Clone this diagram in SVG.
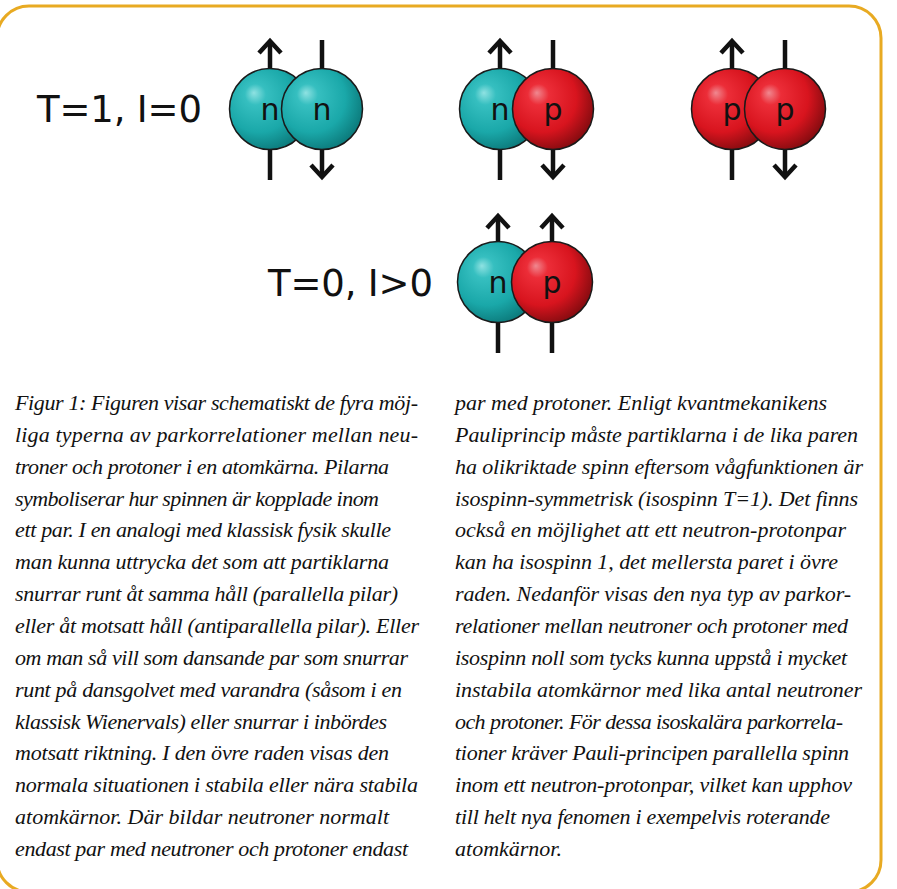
<svg xmlns="http://www.w3.org/2000/svg" xmlns:xlink="http://www.w3.org/1999/xlink" width="897" height="889" viewBox="0 0 897 889">
  <style>
    .frame { fill: none; stroke: #E8AA22; stroke-width: 3; }
    .label { font-family: "DejaVu Sans", "Liberation Sans", sans-serif; font-size: 37px; fill: #111; }
    .ball { stroke: #1a1a1a; stroke-width: 1.5; }
    .neutron { fill: url(#gradN); }
    .proton { fill: url(#gradP); }
    .letter { font-family: "DejaVu Sans", "Liberation Sans", sans-serif; font-size: 30px; fill: #111; text-anchor: middle; }
    .spin { stroke: #111; stroke-width: 4.5; fill: none; }
    .head { stroke: #111; stroke-width: 4.5; fill: none; stroke-linejoin: miter; }
    .body { font-family: "Liberation Serif", "Times New Roman", serif; font-style: italic; font-size: 22px; fill: #111; }
  </style>
  <defs>
    <radialGradient id="gradN" cx="0.4" cy="0.4" r="0.65" fx="0.3" fy="0.3">
      <stop offset="0" stop-color="#8fe2e2"/>
      <stop offset="0.2" stop-color="#36bfc0"/>
      <stop offset="0.65" stop-color="#1aa8a9"/>
      <stop offset="1" stop-color="#0b7778"/>
    </radialGradient>
    <radialGradient id="gradP" cx="0.4" cy="0.4" r="0.65" fx="0.3" fy="0.3">
      <stop offset="0" stop-color="#f08890"/>
      <stop offset="0.2" stop-color="#ec2d38"/>
      <stop offset="0.65" stop-color="#d8141e"/>
      <stop offset="1" stop-color="#800b0f"/>
    </radialGradient>
    <!-- open chevron heads, tip at origin -->
    <path id="headUp" class="head" d="M-11,12 L0,0 L11,12"/>
    <path id="headDown" class="head" d="M-11,-12 L0,0 L11,-12"/>
  </defs>

  <rect class="frame" x="-3" y="6" width="884" height="886" rx="32" ry="32"/>

  <!-- row labels -->
  <text id="label-t1" class="label" x="37" y="122" textLength="165">T=1, I=0</text>
  <text id="label-t0" class="label" x="268" y="296" textLength="165">T=0, I&gt;0</text>

  <!-- neutron-neutron pair, antiparallel spins -->
  <g id="pair-nn">
    <line class="spin" x1="270" y1="42" x2="270" y2="180"/>
    <use xlink:href="#headUp" x="270" y="41"/>
    <line class="spin" x1="322" y1="40" x2="322" y2="176"/>
    <use xlink:href="#headDown" x="322" y="177"/>
    <circle class="ball neutron" cx="270" cy="109" r="40.5"/>
    <circle class="ball neutron" cx="322" cy="109" r="40.5"/>
    <text class="letter" x="270" y="120">n</text>
    <text class="letter" x="322" y="120">n</text>
  </g>

  <!-- neutron-proton pair, antiparallel spins -->
  <g id="pair-np">
    <line class="spin" x1="500" y1="42" x2="500" y2="180"/>
    <use xlink:href="#headUp" x="500" y="41"/>
    <line class="spin" x1="553" y1="40" x2="553" y2="176"/>
    <use xlink:href="#headDown" x="553" y="177"/>
    <circle class="ball neutron" cx="500" cy="109" r="40.5"/>
    <circle class="ball proton" cx="553" cy="109" r="40.5"/>
    <text class="letter" x="500" y="120">n</text>
    <text class="letter" x="553" y="120">p</text>
  </g>

  <!-- proton-proton pair, antiparallel spins -->
  <g id="pair-pp">
    <line class="spin" x1="732" y1="42" x2="732" y2="180"/>
    <use xlink:href="#headUp" x="732" y="41"/>
    <line class="spin" x1="785" y1="40" x2="785" y2="176"/>
    <use xlink:href="#headDown" x="785" y="177"/>
    <circle class="ball proton" cx="732" cy="109" r="40.5"/>
    <circle class="ball proton" cx="785" cy="109" r="40.5"/>
    <text class="letter" x="732" y="120">p</text>
    <text class="letter" x="785" y="120">p</text>
  </g>

  <!-- isoscalar neutron-proton pair, parallel spins -->
  <g id="pair-np-isoscalar">
    <line class="spin" x1="498" y1="217" x2="498" y2="353"/>
    <use xlink:href="#headUp" x="498" y="216"/>
    <line class="spin" x1="552" y1="217" x2="552" y2="353"/>
    <use xlink:href="#headUp" x="552" y="216"/>
    <circle class="ball neutron" cx="498" cy="282" r="40.5"/>
    <circle class="ball proton" cx="552" cy="282" r="40.5"/>
    <text class="letter" x="498" y="293">n</text>
    <text class="letter" x="552" y="293">p</text>
  </g>

  <!-- caption, left column -->
  <g id="caption-left" class="body">
    <text x="15" y="410" textLength="403" lengthAdjust="spacing">Figur 1: Figuren visar schematiskt de fyra möj-</text>
    <text x="15" y="442" textLength="403" lengthAdjust="spacing">liga typerna av parkorrelationer mellan neu-</text>
    <text x="15" y="474" textLength="374" lengthAdjust="spacing">troner och protoner i en atomkärna. Pilarna</text>
    <text x="15" y="506" textLength="364" lengthAdjust="spacing">symboliserar hur spinnen är kopplade inom</text>
    <text x="15" y="537" textLength="376" lengthAdjust="spacing">ett par. I en analogi med klassisk fysik skulle</text>
    <text x="15" y="569" textLength="374" lengthAdjust="spacing">man kunna uttrycka det som att partiklarna</text>
    <text x="15" y="601" textLength="383" lengthAdjust="spacing">snurrar runt åt samma håll (parallella pilar)</text>
    <text x="15" y="633" textLength="404" lengthAdjust="spacing">eller åt motsatt håll (antiparallella pilar). Eller</text>
    <text x="15" y="665" textLength="393" lengthAdjust="spacing">om man så vill som dansande par som snurrar</text>
    <text x="15" y="697" textLength="387" lengthAdjust="spacing">runt på dansgolvet med varandra (såsom i en</text>
    <text x="15" y="729" textLength="372" lengthAdjust="spacing">klassisk Wienervals) eller snurrar i inbördes</text>
    <text x="15" y="760" textLength="374" lengthAdjust="spacing">motsatt riktning. I den övre raden visas den</text>
    <text x="15" y="792" textLength="403" lengthAdjust="spacing">normala situationen i stabila eller nära stabila</text>
    <text x="15" y="824" textLength="374" lengthAdjust="spacing">atomkärnor. Där bildar neutroner normalt</text>
    <text x="15" y="856" textLength="393" lengthAdjust="spacing">endast par med neutroner och protoner endast</text>
  </g>

  <!-- caption, right column -->
  <g id="caption-right" class="body">
    <text x="455" y="410" textLength="372" lengthAdjust="spacing">par med protoner. Enligt kvantmekanikens</text>
    <text x="455" y="442" textLength="403" lengthAdjust="spacing">Pauliprincip måste partiklarna i de lika paren</text>
    <text x="455" y="474" textLength="408" lengthAdjust="spacing">ha olikriktade spinn eftersom vågfunktionen är</text>
    <text x="455" y="506" textLength="403" lengthAdjust="spacing">isospinn-symmetrisk (isospinn T=1). Det finns</text>
    <text x="455" y="537" textLength="391" lengthAdjust="spacing">också en möjlighet att ett neutron-protonpar</text>
    <text x="455" y="569" textLength="383" lengthAdjust="spacing">kan ha isospinn 1, det mellersta paret i övre</text>
    <text x="455" y="601" textLength="396" lengthAdjust="spacing">raden. Nedanför visas den nya typ av parkor-</text>
    <text x="455" y="633" textLength="393" lengthAdjust="spacing">relationer mellan neutroner och protoner med</text>
    <text x="455" y="665" textLength="392" lengthAdjust="spacing">isospinn noll som tycks kunna uppstå i mycket</text>
    <text x="455" y="697" textLength="407" lengthAdjust="spacing">instabila atomkärnor med lika antal neutroner</text>
    <text x="455" y="729" textLength="388" lengthAdjust="spacing">och protoner. För dessa isoskalära parkorrela-</text>
    <text x="455" y="760" textLength="394" lengthAdjust="spacing">tioner kräver Pauli-principen parallella spinn</text>
    <text x="455" y="792" textLength="397" lengthAdjust="spacing">inom ett neutron-protonpar, vilket kan upphov</text>
    <text x="455" y="824" textLength="375" lengthAdjust="spacing">till helt nya fenomen i exempelvis roterande</text>
    <text x="455" y="856" textLength="107" lengthAdjust="spacing">atomkärnor.</text>
  </g>
</svg>
